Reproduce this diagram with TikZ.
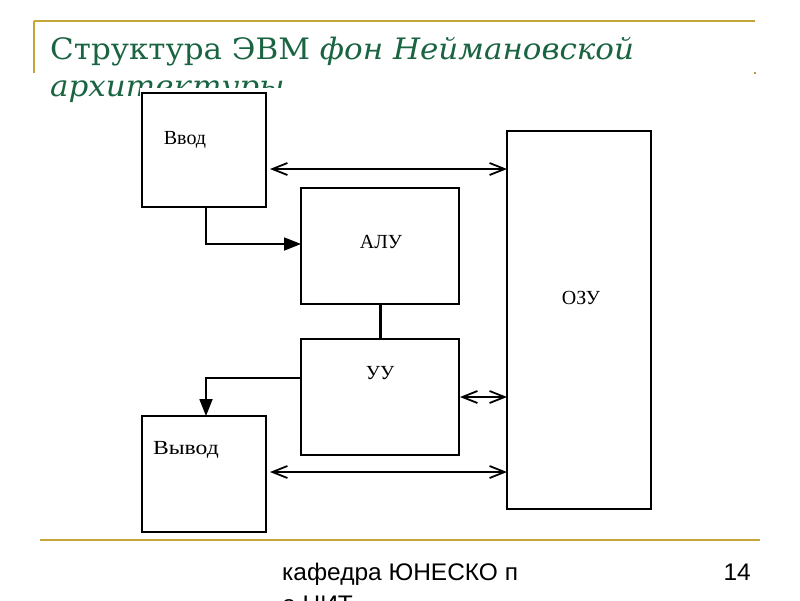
\documentclass[tikz,border=0pt]{standalone}
\usepackage{fontspec}
\usepackage{graphicx}
\setmainfont{Liberation Sans}
\newfontfamily\diagfont{Liberation Serif}
\newfontfamily\titlefont{DejaVu Serif}
\usetikzlibrary{arrows.meta,calc}
\definecolor{gold}{RGB}{198,164,60}
\definecolor{titlegreen}{RGB}{26,100,66}
\tikzset{
  box/.style={draw=black, line width=2pt, fill=white, inner sep=0pt, outer sep=0pt},
  lbl/.style={font=\diagfont\fontsize{20}{22}\selectfont, inner sep=0pt},
  dbl/.style={line width=1.8pt, {Straight Barb[length=15pt,width=12pt]}-{Straight Barb[length=15pt,width=12pt]}},
  one/.style={line width=1.8pt, -{Triangle[length=17pt,width=13pt]}},
  goldline/.style={draw=gold, line width=2.5pt},
  titletext/.style={anchor=base west, inner sep=0pt, text=titlegreen, font=\titlefont\fontsize{29.5}{32}\selectfont},
  foottext/.style={inner sep=0pt, font=\fontsize{24}{26}\selectfont},
}
\begin{document}
\begin{tikzpicture}[x=1pt,y=-1pt]
\useasboundingbox (0,0) rectangle (800,600);
\clip (0,0) rectangle (800,600);
\fill[white] (0,0) rectangle (800,600);
% frame lines
\draw[goldline] (34,21) -- (755,21);
\draw[draw=gold, line width=2pt] (34,21) -- (34,73);
\fill[gold!70!gray] (754,72) rectangle (756,74);
\draw[goldline] (40,540) -- (760,540);
% title
\node[titletext] (title1) at (50,59) {\scalebox{1.05}[1]{Структура ЭВМ \textit{фон Неймановской}}};
\node[titletext] (title2) at (50,96) {\scalebox{1.05}[1]{\textit{архитектуры}}};
% diagram background covering title
\fill[white] (140,88) rectangle (655,536);
% footer
\node[foottext, anchor=base west] (foot1) at (282,580) {\scalebox{1.02}[1]{кафедра ЮНЕСКО п}};
\node[foottext, anchor=base west] (foot2) at (282,612) {\scalebox{1.02}[1]{о НИТ}};
\node[foottext, anchor=base east] (pnum) at (751,580) {\scalebox{1.02}[1]{14}};
% boxes
\node[box, minimum width=124pt, minimum height=114pt] (vvod) at (204,150) {};
\node[box, minimum width=158pt, minimum height=116pt] (alu) at (380,246) {};
\node[box, minimum width=144pt, minimum height=378pt] (ozu) at (579,320) {};
\node[box, minimum width=158pt, minimum height=116pt] (uu) at (380,397) {};
\node[box, minimum width=124pt, minimum height=116pt] (vyvod) at (204,474) {};
% labels
\node[lbl] (lvvod) at (185,140) {Ввод};
\node[lbl] (lalu) at (381,242) {АЛУ};
\node[lbl] (lozu) at (581,298) {ОЗУ};
\node[lbl] (luu) at (380,373) {УУ};
\node[lbl] (lvyvod) at (186,450) {\scalebox{1.18}[1]{Вывод}};
% level coordinates
\coordinate (y1) at (0,169);
\coordinate (y2) at (0,244);
\coordinate (y3) at (0,378);
\coordinate (y4) at (0,397);
\coordinate (y5) at (0,472);
\coordinate (xv) at (206,0);
% connectors
\draw[dbl] ($(vvod.east |- y1)+(4,0)$) -- (ozu.west |- y1);
\draw[one] (xv |- vvod.south) -- (xv |- y2) -- (alu.west |- y2);
\draw[line width=3pt] (alu.south) -- (uu.north);
\draw[one] (uu.west |- y3) -- (xv |- y3) -- (xv |- vyvod.north);
\draw[dbl] ($(uu.east |- y4)+(1,0)$) -- (ozu.west |- y4);
\draw[dbl] ($(vyvod.east |- y5)+(4,0)$) -- (ozu.west |- y5);
\end{tikzpicture}
\end{document}
